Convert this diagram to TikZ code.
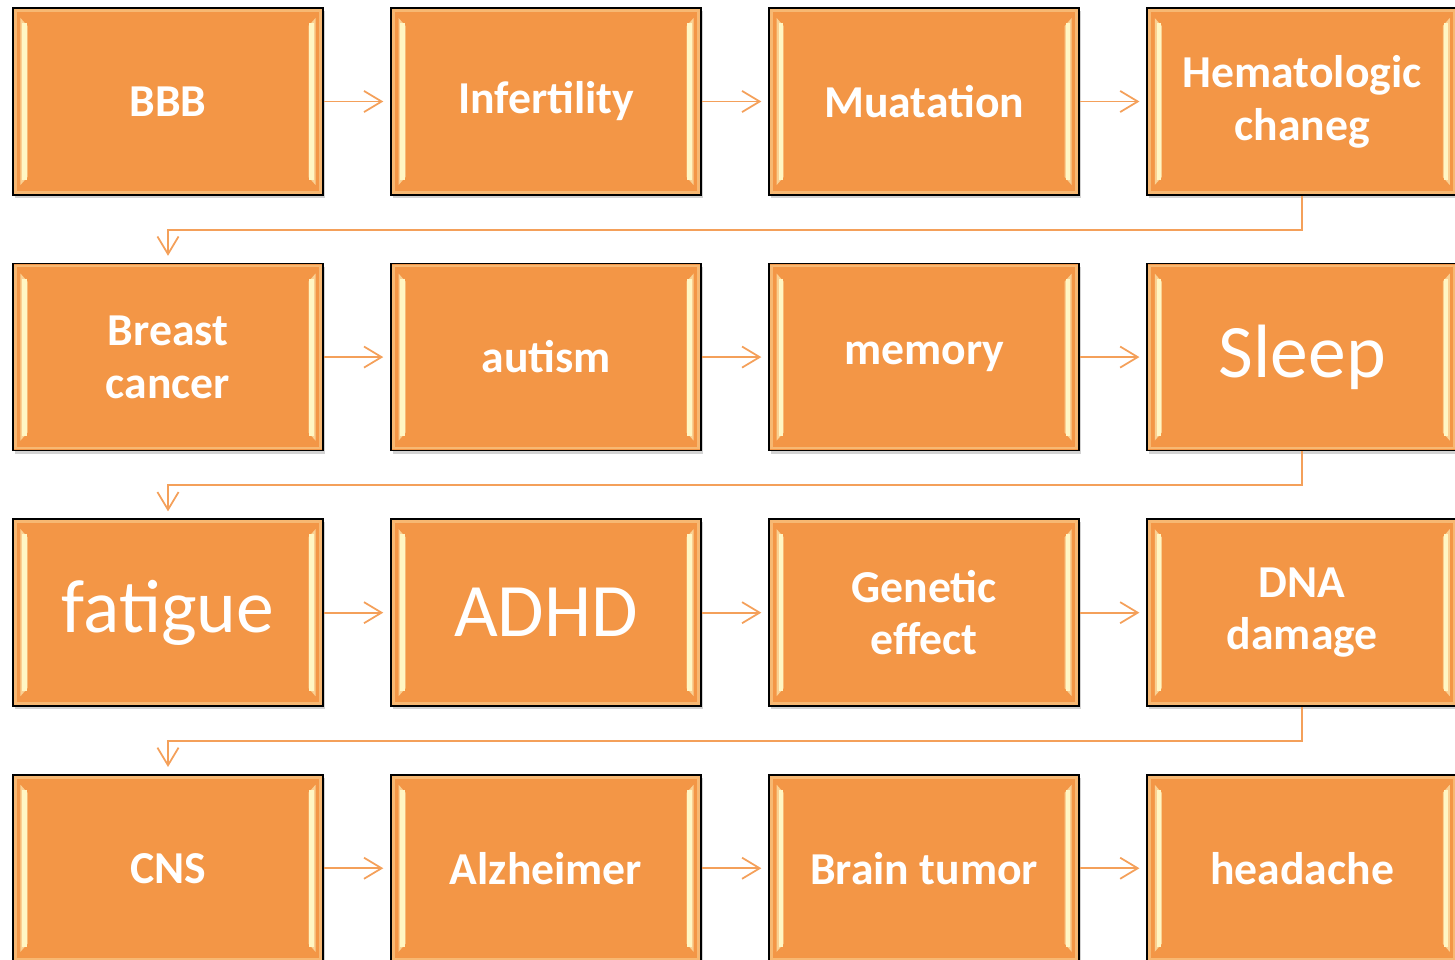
\documentclass[tikz,border=0pt]{standalone}
\usepackage{fontspec}
\setmainfont{Carlito}
\usetikzlibrary{arrows.meta,positioning,shadows}

\definecolor{boxorange}{HTML}{F39646}
\definecolor{linkorange}{HTML}{F4A05A}
\definecolor{bevellight}{HTML}{FFF6C4}

\begin{document}
\begin{tikzpicture}
\tikzstyle{bevel}=[path picture={
  \fill[bevellight!60!boxorange]
    ([shift={(0.15,-0.2)}]path picture bounding box.north west) -- ([shift={(0.29,-0.36)}]path picture bounding box.north west)
    -- ([shift={(0.29,0.36)}]path picture bounding box.south west) -- ([shift={(0.15,0.2)}]path picture bounding box.south west) -- cycle;
  \fill[bevellight!60!boxorange]
    ([shift={(-0.15,-0.2)}]path picture bounding box.north east) -- ([shift={(-0.29,-0.36)}]path picture bounding box.north east)
    -- ([shift={(-0.29,0.36)}]path picture bounding box.south east) -- ([shift={(-0.15,0.2)}]path picture bounding box.south east) -- cycle;
  \draw[bevellight, line width=2.4pt]
    ([shift={(0.23,-0.3)}]path picture bounding box.north west) -- ([shift={(0.23,0.3)}]path picture bounding box.south west);
  \draw[bevellight, line width=2.4pt]
    ([shift={(-0.23,-0.3)}]path picture bounding box.north east) -- ([shift={(-0.23,0.3)}]path picture bounding box.south east);
  \draw[bevellight!35!boxorange, line width=1.5pt]
    ([shift={(0.05,-0.05)}]path picture bounding box.north west) rectangle ([shift={(-0.05,0.05)}]path picture bounding box.south east);
}]
\tikzstyle{box}=[rectangle, draw=black, line width=0.9pt, fill=boxorange, bevel,
  drop shadow={shadow xshift=0.04cm, shadow yshift=-0.06cm, opacity=0.35},
  minimum width=6.2cm, minimum height=3.74cm, text=white, align=center,
  font=\fontsize{26}{30}\selectfont\bfseries]
\tikzstyle{bigbox}=[box, font=\fontsize{43}{50}\selectfont]
\tikzstyle{link}=[draw=linkorange, line width=1pt, -{Straight Barb[length=10pt,width=12pt]}, shorten >=4pt]

\useasboundingbox (0,0) rectangle (29.1,-19.2);
\clip (0,0) rectangle (29.1,-19.2);

% row 1
\node[box] (bbb) at (3.36,-2.03) {BBB};
\node[box, right=1.33cm of bbb] (infert) {Infertility};
\node[box, right=1.33cm of infert] (muat) {Muatation};
\node[box, right=1.33cm of muat] (hema) {Hematologic\\chaneg};
% row 2
\node[box, below=1.34cm of bbb] (breast) {Breast\\cancer};
\node[box, right=1.33cm of breast] (autism) {autism};
\node[box, right=1.33cm of autism] (memory) {memory};
\node[bigbox, right=1.33cm of memory] (sleep) {Sleep};
% row 3
\node[bigbox, below=1.34cm of breast] (fatigue) {fatigue};
\node[bigbox, right=1.33cm of fatigue] (adhd) {ADHD};
\node[box, right=1.33cm of adhd] (genetic) {Genetic\\effect};
\node[box, right=1.33cm of genetic] (dna) {DNA\\damage};
% row 4
\node[box, below=1.34cm of fatigue] (cns) {CNS};
\node[box, right=1.33cm of cns] (alz) {Alzheimer};
\node[box, right=1.33cm of alz] (tumor) {Brain tumor};
\node[box, right=1.33cm of tumor] (headache) {headache};

\draw[link] (bbb) -- (infert);
\draw[link] (infert) -- (muat);
\draw[link] (muat) -- (hema);
\draw[link] (hema.south) -- ++(0,-0.68) -| (breast.north);
\draw[link] (breast) -- (autism);
\draw[link] (autism) -- (memory);
\draw[link] (memory) -- (sleep);
\draw[link] (sleep.south) -- ++(0,-0.68) -| (fatigue.north);
\draw[link] (fatigue) -- (adhd);
\draw[link] (adhd) -- (genetic);
\draw[link] (genetic) -- (dna);
\draw[link] (dna.south) -- ++(0,-0.68) -| (cns.north);
\draw[link] (cns) -- (alz);
\draw[link] (alz) -- (tumor);
\draw[link] (tumor) -- (headache);
\end{tikzpicture}
\end{document}
